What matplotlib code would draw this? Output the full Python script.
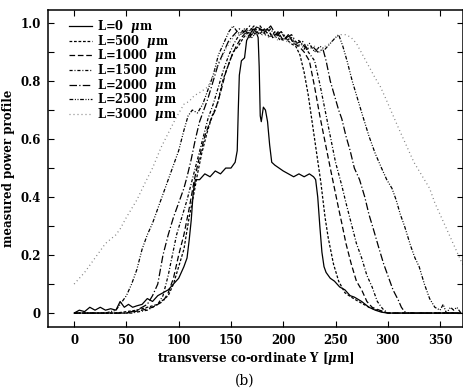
import matplotlib
matplotlib.use("Agg")
import matplotlib.pyplot as plt
from matplotlib.ticker import MultipleLocator, FixedLocator

plt.rcParams["font.family"] = "DejaVu Serif"
plt.rcParams["font.weight"] = "bold"
plt.rcParams["axes.labelweight"] = "bold"
plt.rcParams["mathtext.fontset"] = "dejavuserif"

y_L0 = [0, 5, 10, 15, 20, 25, 30, 35, 40, 44, 48, 52, 56, 60, 65, 70, 75, 80, 85, 90,
        95, 100, 105, 108, 110, 112, 114, 116, 120, 125, 130, 135, 140, 145, 150, 154,
        156, 157, 158, 160, 163, 165, 168, 171, 174, 176, 177, 178, 179, 181, 183, 185,
        187, 189, 192, 196, 200, 205, 210, 215, 220, 225, 229, 231, 233, 235, 237, 239,
        241, 245, 249, 254, 259, 264, 268, 275, 282, 288, 294, 300, 370]
p_L0 = [0.00, 0.01, 0.005, 0.02, 0.01, 0.02, 0.01, 0.015, 0.01, 0.04, 0.02, 0.03, 0.02,
        0.025, 0.03, 0.05, 0.04, 0.06, 0.07, 0.08, 0.10, 0.12, 0.16, 0.19, 0.25, 0.32,
        0.42, 0.46, 0.46, 0.48, 0.47, 0.49, 0.48, 0.50, 0.50, 0.52, 0.56, 0.70, 0.82,
        0.87, 0.88, 0.94, 0.96, 0.98, 0.97, 0.95, 0.85, 0.68, 0.66, 0.71, 0.70, 0.66,
        0.58, 0.52, 0.51, 0.50, 0.49, 0.48, 0.47, 0.48, 0.47, 0.48, 0.47, 0.46, 0.40,
        0.30, 0.21, 0.16, 0.14, 0.12, 0.11, 0.09, 0.08, 0.06, 0.055, 0.04, 0.02, 0.01,
        0.003, 0.0, 0.0]

y_L500 = [0, 40, 60, 70, 80, 90, 95, 100, 105, 110, 115, 118, 122, 127, 132, 137, 142,
          147, 152, 157, 162, 167, 172, 177, 182, 187, 192, 197, 202, 207, 212, 216, 220,
          224, 228, 232, 236, 240, 243, 248, 253, 259, 265, 272, 282, 290, 300, 370]
p_L500 = [0.0, 0.0, 0.01, 0.02, 0.03, 0.06, 0.10, 0.16, 0.22, 0.33, 0.42, 0.48, 0.55,
          0.62, 0.68, 0.72, 0.80, 0.85, 0.90, 0.92, 0.95, 0.97, 0.99, 0.96, 0.98, 0.95,
          0.97, 0.94, 0.95, 0.93, 0.92, 0.89, 0.83, 0.75, 0.65, 0.55, 0.45, 0.33, 0.26,
          0.17, 0.11, 0.07, 0.055, 0.04, 0.02, 0.01, 0.0, 0.0]

y_L1000 = [0, 50, 65, 75, 85, 90, 95, 100, 105, 110, 115, 120, 125, 130, 135, 140, 145,
           150, 155, 160, 165, 170, 175, 180, 185, 190, 195, 200, 205, 210, 215, 220, 225,
           230, 235, 240, 245, 249, 253, 256, 260, 265, 270, 275, 280, 285, 292, 300, 370]
p_L1000 = [0.0, 0.0, 0.01, 0.02, 0.04, 0.07, 0.12, 0.20, 0.27, 0.36, 0.46, 0.54, 0.61,
           0.66, 0.70, 0.76, 0.83, 0.88, 0.92, 0.95, 0.97, 0.96, 0.99, 0.97, 0.98, 0.95,
           0.97, 0.94, 0.96, 0.93, 0.92, 0.90, 0.87, 0.78, 0.68, 0.59, 0.50, 0.43, 0.36,
           0.31, 0.24, 0.17, 0.11, 0.08, 0.04, 0.02, 0.01, 0.0, 0.0]

y_L1500 = [0, 55, 70, 80, 85, 90, 94, 98, 103, 108, 113, 118, 123, 128, 133, 138, 143,
           148, 153, 158, 163, 168, 173, 178, 183, 188, 193, 198, 203, 208, 213, 218, 222,
           226, 230, 235, 240, 245, 250, 256, 260, 265, 270, 275, 280, 285, 290, 295, 300,
           370]
p_L1500 = [0.0, 0.0, 0.01, 0.03, 0.06, 0.13, 0.20, 0.27, 0.33, 0.39, 0.46, 0.53, 0.60,
           0.67, 0.72, 0.78, 0.84, 0.89, 0.93, 0.96, 0.98, 0.95, 0.98, 0.99, 0.96, 0.98,
           0.95, 0.97, 0.94, 0.95, 0.92, 0.93, 0.91, 0.89, 0.87, 0.79, 0.70, 0.61, 0.52,
           0.44, 0.38, 0.31, 0.24, 0.19, 0.13, 0.09, 0.04, 0.015, 0.0, 0.0]

y_L2000 = [0, 50, 60, 70, 75, 80, 85, 90, 95, 100, 105, 108, 112, 116, 120, 124, 128, 133,
           138, 143, 148, 153, 158, 163, 168, 173, 178, 183, 188, 193, 198, 203, 208, 213,
           218, 223, 228, 233, 238, 241, 245, 249, 253, 256, 260, 264, 268, 273, 278, 282,
           287, 291, 296, 301, 305, 310, 313, 316, 320, 370]
p_L2000 = [0.0, 0.0, 0.01, 0.03, 0.06, 0.10, 0.20, 0.27, 0.33, 0.38, 0.43, 0.47, 0.53,
           0.60, 0.66, 0.70, 0.74, 0.80, 0.86, 0.90, 0.94, 0.96, 0.98, 0.97, 0.99, 0.96,
           0.98, 0.97, 0.99, 0.96, 0.97, 0.95, 0.96, 0.93, 0.94, 0.91, 0.92, 0.90, 0.91,
           0.87, 0.80, 0.75, 0.70, 0.67, 0.61, 0.56, 0.50, 0.46, 0.40, 0.34, 0.28, 0.23,
           0.17, 0.12, 0.08, 0.045, 0.02, 0.005, 0.0, 0.0]

y_L2500 = [0, 30, 40, 45, 50, 55, 60, 65, 70, 75, 80, 85, 90, 95, 100, 105, 109, 113, 118,
           123, 128, 133, 138, 143, 148, 152, 156, 160, 165, 170, 175, 180, 185, 190, 195,
           200, 205, 210, 215, 220, 225, 230, 235, 240, 245, 250, 253, 257, 261, 266, 271,
           276, 282, 288, 294, 299, 304, 308, 312, 316, 322, 326, 330, 335, 340, 345, 350,
           353, 356, 360, 363, 366, 370]
p_L2500 = [0.0, 0.0, 0.01, 0.035, 0.06, 0.10, 0.15, 0.22, 0.27, 0.31, 0.36, 0.41, 0.46,
           0.51, 0.56, 0.63, 0.68, 0.70, 0.69, 0.72, 0.77, 0.82, 0.89, 0.93, 0.97, 0.99,
           0.97, 0.96, 0.98, 0.95, 0.97, 0.96, 0.98, 0.95, 0.96, 0.94, 0.96, 0.93, 0.94,
           0.91, 0.93, 0.90, 0.92, 0.91, 0.93, 0.95, 0.96, 0.92, 0.87, 0.80, 0.74, 0.68,
           0.61, 0.55, 0.50, 0.46, 0.43, 0.39, 0.34, 0.30, 0.23, 0.19, 0.16, 0.10, 0.05,
           0.02, 0.01, 0.03, 0.0, 0.02, 0.01, 0.02, 0.0]

y_L3000 = [0, 10, 20, 30, 40, 44, 50, 60, 68, 75, 83, 90, 97, 105, 110, 115, 120, 128, 135,
           140, 145, 150, 155, 160, 165, 170, 175, 180, 185, 190, 195, 200, 205, 210, 215,
           220, 225, 230, 235, 240, 245, 250, 255, 260, 265, 270, 276, 282, 288, 293, 298,
           304, 310, 315, 320, 325, 330, 335, 340, 345, 350, 355, 360, 365, 370, 373]
p_L3000 = [0.10, 0.14, 0.19, 0.24, 0.27, 0.29, 0.33, 0.39, 0.45, 0.50, 0.57, 0.62, 0.67,
           0.72, 0.73, 0.75, 0.76, 0.78, 0.84, 0.87, 0.91, 0.94, 0.96, 0.97, 0.95, 0.98,
           0.96, 0.97, 0.95, 0.96, 0.94, 0.95, 0.93, 0.94, 0.92, 0.93, 0.91, 0.92, 0.90,
           0.92, 0.93, 0.95, 0.96, 0.96, 0.95, 0.93, 0.89, 0.85, 0.81, 0.78, 0.74, 0.69,
           0.64, 0.60, 0.56, 0.52, 0.49, 0.46, 0.43, 0.38, 0.34, 0.30, 0.26, 0.22, 0.18,
           0.16]

etiquetas = ["L=0  $\\mu$m", "L=500  $\\mu$m", "L=1000  $\\mu$m", "L=1500  $\\mu$m",
             "L=2000  $\\mu$m", "L=2500  $\\mu$m", "L=3000  $\\mu$m"]

perfiles = [(y_L0, p_L0), (y_L500, p_L500), (y_L1000, p_L1000), (y_L1500, p_L1500),
            (y_L2000, p_L2000), (y_L2500, p_L2500), (y_L3000, p_L3000)]

# Estilo de linea de cada curva
estilos = [
    dict(color="black", linestyle="-"),
    dict(color="black", linestyle=(0, (2.2, 1.4))),
    dict(color="black", linestyle=(0, (4.5, 2.2))),
    dict(color="black", linestyle=(0, (2.5, 1.5, 0.8, 1.5))),
    dict(color="black", linestyle=(0, (6, 1.8, 1, 1.8))),
    dict(color="black", linestyle=(0, (3, 1.3, 0.8, 1.3, 0.8, 1.3))),
    dict(color="0.5", linestyle=(0, (0.8, 2.4))),
]

fig = plt.figure(figsize=(4.64, 3.91), dpi=100)
ax = fig.add_axes([0.1034, 0.1637, 0.8946, 0.8107])

for (x, y), etiqueta, estilo in zip(perfiles, etiquetas, estilos):
    ax.plot(x, y, linewidth=0.9, label=etiqueta, **estilo)

ax.set_xlim(-25, 372)
ax.set_ylim(-0.048, 1.045)
ax.xaxis.set_major_locator(MultipleLocator(50))
ax.set_yticks([0, 0.2, 0.4, 0.6, 0.8, 1.0])
ax.set_yticklabels(["0", "0.2", "0.4", "0.6", "0.8", "1.0"])
ax.yaxis.set_minor_locator(FixedLocator([0.1, 0.3, 0.5, 0.7, 0.9]))
ax.tick_params(which="both", direction="in", top=True, right=True, length=4,
               width=0.8, labelsize=8.5, pad=5)
for etiqueta_eje in ax.get_xticklabels() + ax.get_yticklabels():
    etiqueta_eje.set_fontweight("bold")

for lado in ax.spines.values():
    lado.set_linewidth(1.1)

ax.set_xlabel("transverse co-ordinate Y [$\\mu$m]", fontsize=8.5, labelpad=2)
ax.set_ylabel("measured power profile", fontsize=8.5, labelpad=4)

ax.legend(loc="upper left", bbox_to_anchor=(0.035, 0.997), frameon=False,
          fontsize=8.3, handlelength=2.0, handletextpad=0.35, labelspacing=-0.2,
          borderaxespad=0.2)

fig.text(0.528, 0.015, "(b)", fontsize=10, fontweight="normal", ha="center")

fig.savefig("out.png", dpi=100)
